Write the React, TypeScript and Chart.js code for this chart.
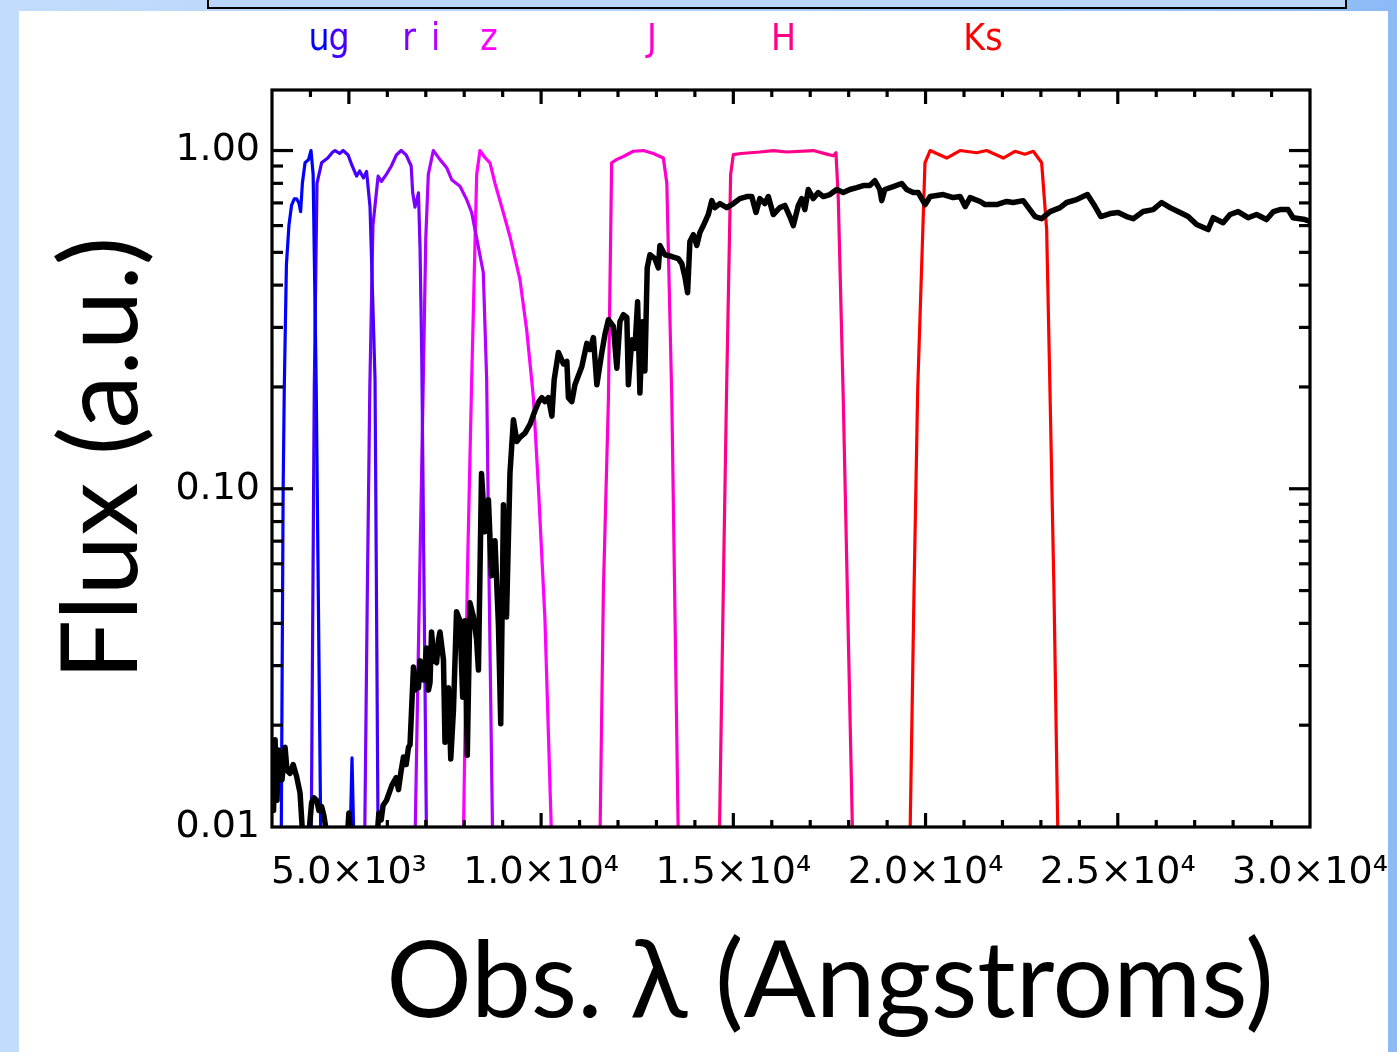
import React, { useEffect, useRef } from "react";
import { Chart, registerables } from "chart.js";

Chart.register(...registerables);

// ---------- axis ticks ----------
const xTickValues = [5000, 10000, 15000, 20000, 25000, 30000];
const xTickLabels = ["5.0×10³", "1.0×10⁴", "1.5×10⁴", "2.0×10⁴", "2.5×10⁴", "3.0×10⁴"];
const xMinorStep = 1000;
const yTickValues = [0.01, 0.1, 1];
const yTickLabels = ["0.01", "0.10", "1.00"];
const yMinorValues = [0.02, 0.03, 0.04, 0.05, 0.06, 0.07, 0.08, 0.09, 0.2, 0.3, 0.4, 0.5, 0.6, 0.7, 0.8, 0.9];

const xTitle = "Obs. λ (Angstroms)";
const yTitle = "Flux (a.u.)";

// ---------- filter band labels ----------
const bandLabelText = ["u", "g", "r", "i", "z", "J", "H", "Ks"];
const bandLabelWave = [4222, 4743, 6563, 7255, 8644, 12884, 16304, 21493];
const bandColors = ["#0000ff", "#4400ff", "#7a00ff", "#b000ff", "#ff00ff", "#ff00cc", "#ff0088", "#ff0000"];

// ---------- filter transmission curves [wavelength (Å), normalised transmission] ----------
const uBand: [number, number][] = [
  [3240, 0.009], [3290, 0.1], [3320, 0.2], [3375, 0.46], [3440, 0.6], [3510, 0.69], [3580, 0.72],
  [3640, 0.72], [3700, 0.7], [3745, 0.66], [3790, 0.8], [3860, 0.92], [3950, 0.94], [4015, 1.0],
  [4070, 0.85], [4150, 0.2], [4270, 0.009], [4950, 0.009], [5030, 0.009], [5081, 0.016], [5130, 0.009],
];
const gBand: [number, number][] = [
  [4020, 0.009], [4100, 0.2], [4170, 0.8], [4290, 0.92], [4450, 0.95], [4580, 0.99], [4640, 1.0],
  [4760, 0.98], [4850, 1.0], [4980, 0.97], [5070, 0.91], [5200, 0.84], [5280, 0.87], [5380, 0.83],
  [5460, 0.868], [5550, 0.68], [5680, 0.21], [5760, 0.009],
];
const rBand: [number, number][] = [
  [5410, 0.009], [5480, 0.05], [5545, 0.2], [5625, 0.6], [5760, 0.84], [5845, 0.81], [5975, 0.85],
  [6105, 0.9], [6235, 0.97], [6360, 1.0], [6490, 0.97], [6620, 0.9], [6660, 0.75], [6720, 0.68],
  [6810, 0.75], [6850, 0.52], [6895, 0.25], [7020, 0.009],
];
const iBand: [number, number][] = [
  [6720, 0.009], [6800, 0.03], [6935, 0.21], [7000, 0.55], [7066, 0.85], [7196, 1.0], [7370, 0.94],
  [7544, 0.89], [7674, 0.82], [7890, 0.784], [8064, 0.716], [8194, 0.656], [8366, 0.52], [8496, 0.436],
  [8584, 0.21], [8650, 0.05], [8740, 0.009],
];
const zBand: [number, number][] = [
  [7977, 0.009], [8081, 0.055], [8194, 0.21], [8324, 0.85], [8410, 1.0], [8540, 0.953], [8670, 0.92],
  [8800, 0.8], [9016, 0.656], [9190, 0.557], [9450, 0.415], [9624, 0.295], [9754, 0.21], [9800, 0.185],
  [9930, 0.101], [10100, 0.041], [10275, 0.009],
];
const jBand: [number, number][] = [
  [11530, 0.009], [11620, 0.05], [11750, 0.183], [11835, 0.92], [11960, 0.94], [12140, 0.96],
  [12400, 0.995], [12660, 1.0], [12920, 0.98], [13180, 0.95], [13270, 0.8], [13400, 0.183], [13570, 0.009],
];
const hBand: [number, number][] = [
  [14635, 0.009], [14750, 0.06], [14820, 0.183], [14930, 0.85], [15000, 0.973], [15200, 0.98],
  [15690, 0.99], [16040, 1.0], [16390, 0.99], [17080, 1.0], [17430, 0.976], [17600, 0.965],
  [17670, 0.985], [17730, 0.72], [17860, 0.183], [18105, 0.009],
];
const ksBand: [number, number][] = [
  [19594, 0.009], [19700, 0.05], [19795, 0.196], [19985, 0.92], [20118, 1.0], [20550, 0.95],
  [20897, 1.0], [21330, 0.985], [21590, 1.0], [22023, 0.95], [22325, 0.995], [22585, 0.975],
  [22802, 0.995], [23020, 0.92], [23150, 0.584], [23236, 0.196], [23340, 0.05], [23444, 0.009],
];

// ---------- observed spectrum [wavelength (Å), flux (a.u.)] ----------
const spectrum: [number, number][] = [
  [3000, 0.0147], [3040, 0.0112], [3080, 0.0181], [3130, 0.012], [3170, 0.0169], [3210, 0.015],
  [3260, 0.0138], [3340, 0.0172], [3390, 0.0147], [3470, 0.0144], [3550, 0.0153], [3640, 0.0141],
  [3730, 0.0126], [3810, 0.009], [3940, 0.009], [4030, 0.0118], [4090, 0.0122], [4160, 0.012],
  [4220, 0.0112], [4290, 0.0115], [4350, 0.0108], [4460, 0.009], [4950, 0.009], [5000, 0.011],
  [5060, 0.009], [5720, 0.009], [5780, 0.011], [5840, 0.0105], [5890, 0.0116], [5980, 0.012],
  [6120, 0.0133], [6230, 0.014], [6290, 0.0129], [6360, 0.0147], [6420, 0.0161], [6490, 0.0153],
  [6550, 0.0172], [6590, 0.0175], [6680, 0.0297], [6720, 0.0254], [6760, 0.0278], [6810, 0.0258],
  [6850, 0.031], [6940, 0.0272], [7020, 0.0338], [7070, 0.0254], [7110, 0.0267], [7150, 0.0377],
  [7210, 0.0312], [7280, 0.0306], [7330, 0.0357], [7370, 0.0377], [7460, 0.0312], [7500, 0.0178],
  [7590, 0.0258], [7650, 0.0159], [7720, 0.0222], [7800, 0.0433], [7890, 0.0407], [7960, 0.0242],
  [8020, 0.0407], [8080, 0.0163], [8150, 0.046], [8240, 0.0418], [8320, 0.036], [8370, 0.0291],
  [8450, 0.111], [8540, 0.0746], [8630, 0.0928], [8710, 0.0553], [8800, 0.0702], [8890, 0.0396],
  [8950, 0.0202], [9020, 0.0897], [9100, 0.0418], [9190, 0.111], [9280, 0.16], [9370, 0.138],
  [9450, 0.142], [9580, 0.146], [9710, 0.155], [9840, 0.17], [9930, 0.18], [10020, 0.186],
  [10100, 0.181], [10190, 0.186], [10280, 0.164], [10340, 0.21], [10450, 0.253], [10580, 0.234],
  [10670, 0.238], [10710, 0.186], [10800, 0.181], [10880, 0.203], [11060, 0.23], [11190, 0.269],
  [11270, 0.258], [11360, 0.28], [11450, 0.203], [11580, 0.253], [11660, 0.286], [11750, 0.316],
  [11880, 0.302], [11970, 0.227], [12050, 0.312], [12140, 0.327], [12230, 0.321], [12270, 0.203],
  [12360, 0.276], [12440, 0.26], [12510, 0.357], [12570, 0.192], [12640, 0.312], [12700, 0.223],
  [12760, 0.45], [12830, 0.492], [12960, 0.479], [13050, 0.45], [13090, 0.524], [13220, 0.492],
  [13400, 0.486], [13570, 0.479], [13660, 0.463], [13740, 0.424], [13810, 0.38], [13870, 0.538],
  [13960, 0.564], [14050, 0.524], [14130, 0.572], [14220, 0.6], [14350, 0.647], [14440, 0.711],
  [14520, 0.678], [14650, 0.697], [14830, 0.678], [15000, 0.697], [15170, 0.721], [15350, 0.731],
  [15480, 0.731], [15590, 0.656], [15690, 0.721], [15820, 0.697], [15910, 0.731], [16040, 0.647],
  [16210, 0.678], [16340, 0.688], [16470, 0.638], [16560, 0.6], [16690, 0.688], [16780, 0.721],
  [16860, 0.669], [16950, 0.767], [17080, 0.721], [17210, 0.751], [17340, 0.731], [17510, 0.741],
  [17690, 0.767], [17860, 0.751], [18030, 0.767], [18210, 0.777], [18380, 0.788], [18550, 0.788],
  [18680, 0.815], [18810, 0.767], [18860, 0.711], [18940, 0.767], [19160, 0.782], [19380, 0.799],
  [19510, 0.767], [19680, 0.751], [19810, 0.751], [19990, 0.692], [20120, 0.731], [20460, 0.741],
  [20720, 0.726], [20900, 0.731], [21030, 0.683], [21160, 0.726], [21420, 0.707], [21550, 0.692],
  [21850, 0.692], [22110, 0.707], [22280, 0.702], [22540, 0.711], [22850, 0.638], [23020, 0.629],
  [23240, 0.66], [23500, 0.678], [23670, 0.702], [23930, 0.716], [24210, 0.741], [24410, 0.683],
  [24560, 0.638], [24800, 0.651], [25010, 0.656], [25230, 0.638], [25400, 0.629], [25660, 0.66],
  [25920, 0.669], [26140, 0.702], [26360, 0.678], [26620, 0.656], [26830, 0.638], [27050, 0.604],
  [27350, 0.584], [27480, 0.633], [27740, 0.612], [27920, 0.647], [28130, 0.66], [28390, 0.633],
  [28610, 0.647], [28870, 0.625], [29050, 0.66], [29220, 0.669], [29430, 0.669], [29560, 0.633],
  [29870, 0.625], [30000, 0.617],
];

const bands = [uBand, gBand, rBand, iBand, zBand, jBand, hBand, ksBand];
const bandNames = ["u", "g", "r", "i", "z", "J", "H", "Ks"];

const toXY = (arr: [number, number][]) => arr.map(([x, y]) => ({ x, y }));

const framePlugin = {
  id: "idlFrame",
  afterDraw(chart: any) {
    const { ctx, chartArea: a, scales } = chart;
    const x = scales.x;
    const y = scales.y;
    ctx.save();
    ctx.strokeStyle = "#000";
    ctx.lineWidth = 3.2;
    ctx.lineCap = "butt";
    ctx.strokeRect(a.left, a.top, a.right - a.left, a.bottom - a.top);
    const seg = (x1: number, y1: number, x2: number, y2: number) => {
      ctx.beginPath();
      ctx.moveTo(x1, y1);
      ctx.lineTo(x2, y2);
      ctx.stroke();
    };
    // x ticks (bottom and top, pointing inward)
    for (let v = x.min + xMinorStep; v < x.max; v += xMinorStep) {
      const px = x.getPixelForValue(v);
      const len = xTickValues.includes(v) ? 14 : 7;
      seg(px, a.bottom, px, a.bottom - len);
      seg(px, a.top, px, a.top + len);
    }
    // y ticks (left and right)
    const yTicks = [
      ...yTickValues.map((v) => ({ v, len: 21 })),
      ...yMinorValues.map((v) => ({ v, len: 11 })),
    ];
    yTicks.forEach(({ v, len }) => {
      if (v <= y.min || v >= y.max) return;
      const py = y.getPixelForValue(v);
      seg(a.left, py, a.left + len, py);
      seg(a.right, py, a.right - len, py);
    });
    // band labels along the top
    ctx.font = "37px 'DejaVu Sans Condensed', 'DejaVu Sans', sans-serif";
    ctx.textAlign = "center";
    ctx.textBaseline = "alphabetic";
    bandLabelText.forEach((t, i) => {
      ctx.fillStyle = bandColors[i];
      ctx.fillText(t, x.getPixelForValue(bandLabelWave[i]), a.top - 40);
    });
    // axis titles
    ctx.fillStyle = "#000";
    ctx.font = "107px Lato, 'Open Sans', sans-serif";
    ctx.textAlign = "center";
    ctx.textBaseline = "middle";
    ctx.fillText(xTitle, (a.left + a.right) / 2 + 39, a.bottom + 155);
    ctx.translate(a.left - 170, (a.top + a.bottom) / 2);
    ctx.rotate(-Math.PI / 2);
    ctx.fillText(yTitle, 0, 0);
    ctx.restore();
  },
};

export default function App() {
  const ref = useRef<HTMLCanvasElement>(null);
  useEffect(() => {
    if (!ref.current) return;
    const common = { pointRadius: 0, tension: 0, fill: false, clip: 0, borderJoinStyle: "round" as const };
    const chart = new Chart(ref.current, {
      type: "line",
      data: {
        datasets: [
          { label: "spectrum", data: toXY(spectrum), borderColor: "#000", borderWidth: 5.5, ...common },
          ...bands.map((b, i) => ({
            label: bandNames[i],
            data: toXY(b),
            borderColor: bandColors[i],
            borderWidth: 3.2,
            ...common,
          })),
        ],
      },
      options: {
        responsive: false,
        animation: false,
        events: [],
        layout: { padding: { left: 0, top: 79, right: 78, bottom: 0 } },
        plugins: { legend: { display: false }, tooltip: { enabled: false } },
        scales: {
          x: {
            type: "linear",
            min: 3000,
            max: 30000,
            grid: { display: false, drawTicks: false },
            border: { display: false },
            afterBuildTicks: (s: any) => {
              s.ticks = xTickValues.map((v) => ({ value: v }));
            },
            afterFit: (s: any) => {
              s.height = 225;
              s.paddingLeft = 0;
              s.paddingRight = 0;
            },
            ticks: {
              autoSkip: false,
              maxRotation: 0,
              minRotation: 0,
              padding: 23,
              color: "#000",
              font: { family: "'DejaVu Sans', sans-serif", size: 38 },
              callback: (_v: any, i: number) => xTickLabels[i],
            },
          },
          y: {
            type: "logarithmic",
            min: 0.01,
            max: 1.51,
            grid: { display: false, drawTicks: false },
            border: { display: false },
            afterBuildTicks: (s: any) => {
              s.ticks = yTickValues.map((v) => ({ value: v }));
            },
            afterFit: (s: any) => {
              s.width = 253;
              s.paddingTop = 0;
              s.paddingBottom = 0;
            },
            ticks: {
              autoSkip: false,
              padding: 12,
              color: "#000",
              font: { family: "'DejaVu Sans', sans-serif", size: 38 },
              callback: (_v: any, i: number) => yTickLabels[i],
            },
          },
        },
      },
      plugins: [framePlugin],
    } as any);
    return () => chart.destroy();
  }, []);

  return (
    <div
      style={{
        position: "absolute",
        left: 0,
        top: 0,
        width: 1397,
        height: 1052,
        overflow: "hidden",
        background: "linear-gradient(to right, #c2dcfc 0%, #b4d2fa 40%, #9cc4f8 80%, #8cbaf6 100%)",
      }}
    >
      <div
        style={{
          position: "absolute",
          left: 207,
          top: -10,
          width: 1140,
          height: 19,
          boxSizing: "border-box",
          background: "#bad7fb",
          border: "2px solid #000",
        }}
      />
      <div style={{ position: "absolute", left: 19, top: 11, width: 1369, height: 1041, background: "#fff" }}>
        <canvas ref={ref} width={1369} height={1041} style={{ display: "block", width: 1369, height: 1041 }} />
      </div>
    </div>
  );
}
